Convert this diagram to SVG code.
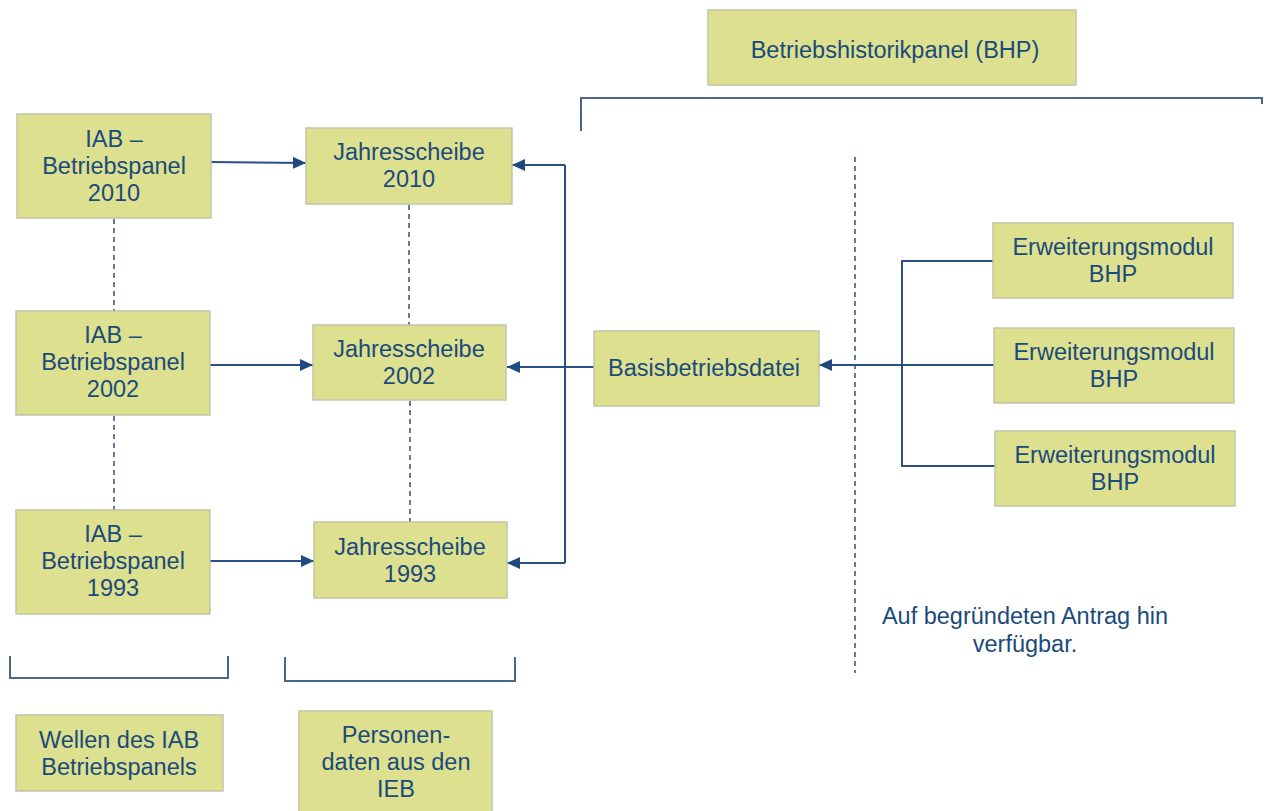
<svg xmlns="http://www.w3.org/2000/svg" width="1264" height="811" viewBox="0 0 1264 811">
<style>
.box{fill:#dde08f;stroke:#c4c5a6;stroke-width:1.5}
.t{font-family:"Liberation Sans",Arial,sans-serif;font-size:23.5px;fill:#1b4a7c;text-anchor:middle}
.ln{stroke:#2a4f84;stroke-width:2;fill:none}
.br{stroke:#4a6688;stroke-width:2;fill:none}
.ds{stroke:#3d5b80;stroke-width:1.6;stroke-dasharray:5 4;fill:none}
</style>
<defs>
<marker id="ah" markerUnits="userSpaceOnUse" markerWidth="13" markerHeight="13" viewBox="0 0 13 13" refX="13" refY="6.5" orient="auto">
<path d="M0,0.5 L13,6.5 L0,12.5 Z" fill="#1f4a80"/>
</marker>
</defs>
<rect width="1264" height="811" fill="#ffffff"/>
<g id="connectors">
<line class="ds" x1="114" y1="219" x2="114" y2="311"/>
<line class="ds" x1="114" y1="416" x2="114" y2="510"/>
<line class="ds" x1="409" y1="205" x2="409" y2="325"/>
<line class="ds" x1="410" y1="401" x2="410" y2="522"/>
<line class="ds" x1="855" y1="157" x2="855" y2="673"/>
<line class="ln" x1="211" y1="162" x2="306" y2="163" marker-end="url(#ah)"/>
<line class="ln" x1="210" y1="365" x2="313" y2="365" marker-end="url(#ah)"/>
<line class="ln" x1="210" y1="561" x2="314" y2="561" marker-end="url(#ah)"/>
<line class="ln" x1="594" y1="367" x2="507" y2="367" marker-end="url(#ah)"/>
<polyline class="ln" points="565,165 565,563"/>
<line class="ln" x1="565" y1="165" x2="512" y2="165" marker-end="url(#ah)"/>
<line class="ln" x1="565" y1="563" x2="507" y2="563" marker-end="url(#ah)"/>
<polyline class="ln" points="993,261 902,261 902,466 995,466"/>
<line class="ln" x1="994" y1="365" x2="819" y2="365" marker-end="url(#ah)"/>
<polyline class="br" points="581,131 581,98 1262,98 1262,104"/>
<polyline class="br" points="10,656 10,678 228,678 228,656"/>
<polyline class="br" points="285,657 285,681 515,681 515,657"/>
</g>
<g id="bhp"><rect class="box" x="708" y="10" width="368" height="75"/><text class="t" x="895" y="58">Betriebshistorikpanel (BHP)</text></g>
<g id="iab2010"><rect class="box" x="17" y="114" width="194" height="104"/><text class="t" x="114" y="147">IAB –</text><text class="t" x="114" y="174">Betriebspanel</text><text class="t" x="114" y="201">2010</text></g>
<g id="js2010"><rect class="box" x="306" y="128" width="206" height="76"/><text class="t" x="409" y="160">Jahresscheibe</text><text class="t" x="409" y="187">2010</text></g>
<g id="iab2002"><rect class="box" x="16" y="311" width="194" height="104"/><text class="t" x="113" y="343">IAB –</text><text class="t" x="113" y="370">Betriebspanel</text><text class="t" x="113" y="397">2002</text></g>
<g id="js2002"><rect class="box" x="313" y="325" width="193" height="75"/><text class="t" x="409" y="357">Jahresscheibe</text><text class="t" x="409" y="384">2002</text></g>
<g id="iab1993"><rect class="box" x="16" y="510" width="194" height="104"/><text class="t" x="113" y="542">IAB –</text><text class="t" x="113" y="569">Betriebspanel</text><text class="t" x="113" y="596">1993</text></g>
<g id="js1993"><rect class="box" x="314" y="522" width="193" height="76"/><text class="t" x="410" y="555">Jahresscheibe</text><text class="t" x="410" y="582">1993</text></g>
<g id="basis"><rect class="box" x="594" y="331" width="225" height="75"/><text class="t" x="704" y="376">Basisbetriebsdatei</text></g>
<g id="em1"><rect class="box" x="993" y="223" width="240" height="75"/><text class="t" x="1113" y="255">Erweiterungsmodul</text><text class="t" x="1113" y="282">BHP</text></g>
<g id="em2"><rect class="box" x="994" y="328" width="240" height="75"/><text class="t" x="1114" y="360">Erweiterungsmodul</text><text class="t" x="1114" y="387">BHP</text></g>
<g id="em3"><rect class="box" x="995" y="431" width="240" height="75"/><text class="t" x="1115" y="463">Erweiterungsmodul</text><text class="t" x="1115" y="490">BHP</text></g>
<g id="wellen"><rect class="box" x="16" y="715" width="207" height="76"/><text class="t" x="119" y="748">Wellen des IAB</text><text class="t" x="119" y="775">Betriebspanels</text></g>
<g id="personen"><rect class="box" x="299" y="711" width="193" height="104"/><text class="t" x="396" y="743">Personen-</text><text class="t" x="396" y="770">daten aus den</text><text class="t" x="396" y="797">IEB</text></g>
<g id="note"><text class="t" x="1025" y="624">Auf begründeten Antrag hin</text><text class="t" x="1025" y="652">verfügbar.</text></g>
</svg>
